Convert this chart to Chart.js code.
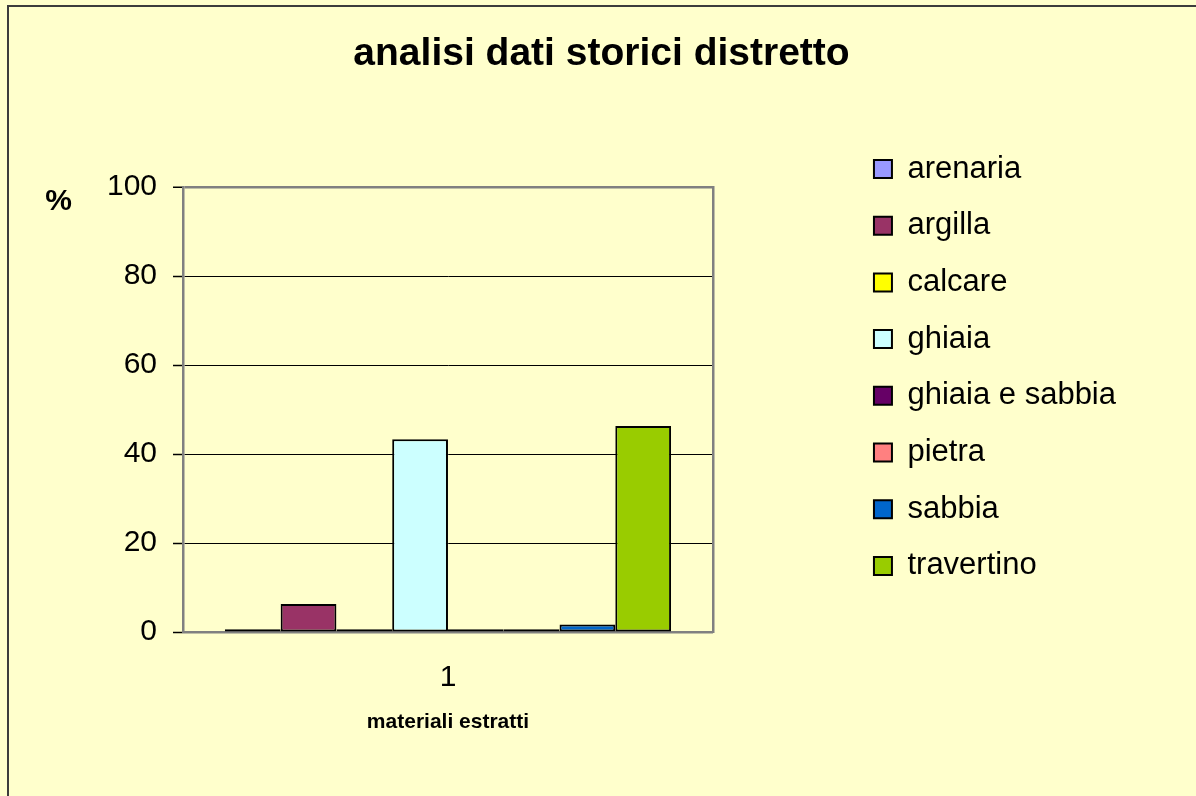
<!DOCTYPE html>
<html>
<head>
<meta charset="utf-8">
<title>analisi dati storici distretto</title>
<script src="https://cdn.jsdelivr.net/npm/chart.js@4.4.1/dist/chart.umd.min.js"></script>
<style>
  html, body { margin: 0; padding: 0; background: #ffffcc; overflow: hidden; }
  .frame { position: absolute; left: 7px; top: 5px; width: 1400px; height: 1000px; border: 2px solid #3c3c3c; }
  #chart { position: absolute; left: 0; top: 0; }
</style>
</head>
<body>
<div class="frame"></div>
<canvas id="chart" width="1196" height="796"></canvas>
<script>
// ---- data ----
const categories = ['1'];
const materials = ['arenaria', 'argilla', 'calcare', 'ghiaia', 'ghiaia e sabbia', 'pietra', 'sabbia', 'travertino'];
const percentages = [0.6, 6.3, 0.6, 43.3, 0.6, 0.6, 1.7, 46.3];
const colors = ['#9999ff', '#993366', '#ffff00', '#ccffff', '#660066', '#ff8080', '#0066cc', '#99cc00'];
const yMin = 0;
const yMax = 100;
const yStep = 20;

const chartFont = "Arial, 'Liberation Sans', sans-serif";
Chart.defaults.font.family = chartFont;
Chart.defaults.color = '#000';

// horizontal "%" label above the y axis
const percentLabel = {
    id: 'percentLabel',
    afterDraw(chart) {
        const { ctx, chartArea } = chart;
        ctx.save();
        ctx.font = 'bold 30px ' + chartFont;
        ctx.fillStyle = '#000';
        ctx.textAlign = 'center';
        ctx.textBaseline = 'middle';
        ctx.fillText('%', chartArea.left - 124.5, chartArea.top + 15);
        ctx.restore();
    }
};

const datasets = materials.map((name, i) => ({
    label: name,
    data: [percentages[i]],
    backgroundColor: colors[i],
    borderColor: '#000',
    borderWidth: 2,
    borderSkipped: false,
    barPercentage: 1,
    categoryPercentage: 0.842
}));

new Chart(document.getElementById('chart'), {
    type: 'bar',
    data: { labels: categories, datasets: datasets },
    options: {
        responsive: false,
        animation: false,
        devicePixelRatio: 1,
        layout: { padding: { left: 77, right: 70, top: 0, bottom: 61 } },
        scales: {
            x: {
                grid: { color: 'rgba(0,0,0,0)', drawOnChartArea: false, drawTicks: true, tickLength: 13.2 },
                border: { display: true, color: '#808080', width: 2.5 },
                ticks: { padding: 14.3, font: { size: 30 }, color: '#000' },
                title: {
                    display: true,
                    text: 'materiali estratti',
                    font: { size: 21, weight: 'bold' },
                    color: '#000',
                    padding: { top: 0, bottom: 0 }
                }
            },
            y: {
                min: yMin,
                max: yMax,
                ticks: { stepSize: yStep, padding: 16, font: { size: 30 }, color: '#000' },
                grid: {
                    color: (c) => (c.tick && (c.tick.value === yMax || c.tick.value === yMin)) ? '#808080' : '#000',
                    lineWidth: (c) => (c.tick && c.tick.value === yMax) ? 2.5 : 1,
                    tickColor: '#000',
                    tickWidth: 1.5,
                    tickLength: 10
                },
                border: { display: true, color: '#808080', width: 2.5 },
                afterFit: (s) => { s.width = 106; }
            },
            // empty right axis: only draws the right edge of the plot and keeps the legend gap
            y2: {
                position: 'right',
                grid: { display: false },
                ticks: { display: false },
                border: { display: true, color: '#808080', width: 2.5 },
                afterFit: (s) => { s.width = 135.3; }
            }
        },
        plugins: {
            title: {
                display: true,
                text: 'analisi dati storici distretto',
                font: { size: 39, weight: 'bold' },
                color: '#000',
                padding: { top: 30.6, bottom: 109.6 }
            },
            legend: {
                position: 'right',
                align: 'start',
                maxWidth: 400,
                title: { display: true, text: ' ', font: { size: 10 }, padding: { top: 0, bottom: 115.8 } },
                labels: {
                    boxWidth: 18,
                    boxHeight: 18,
                    padding: 25.7,
                    font: { size: 31 },
                    color: '#000'
                }
            },
            tooltip: { enabled: false }
        }
    },
    plugins: [percentLabel]
});
</script>
</body>
</html>
